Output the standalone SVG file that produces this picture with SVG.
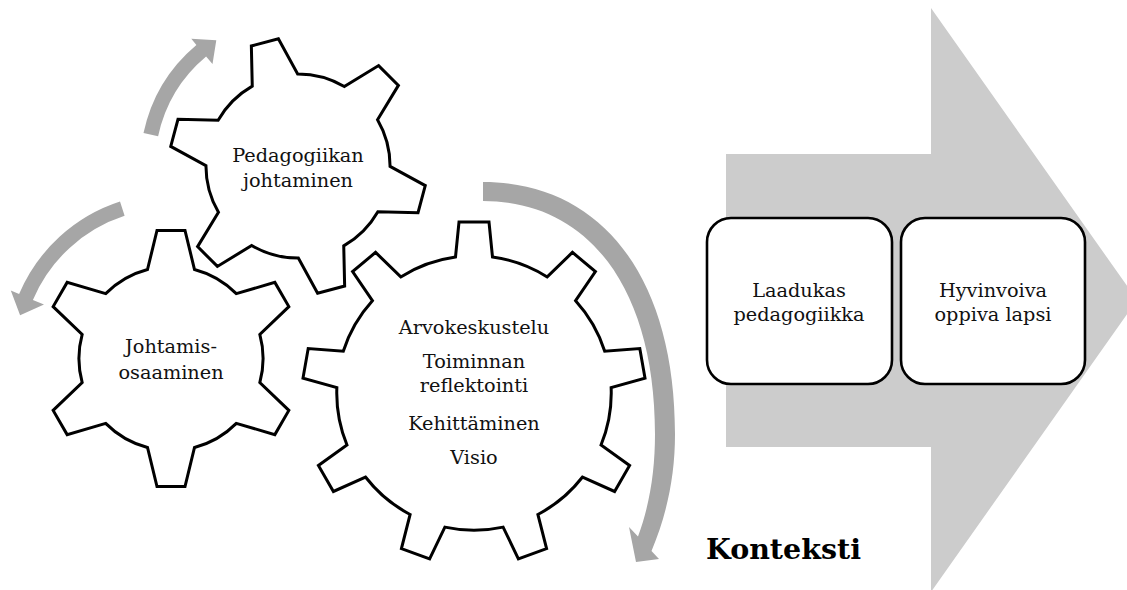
<svg xmlns="http://www.w3.org/2000/svg" xmlns:xlink="http://www.w3.org/1999/xlink" width="1127" height="590" viewBox="0 0 1127 590">
<style>
.gear{fill:#fff;stroke:#000;stroke-width:3;stroke-linejoin:miter}
.box{fill:#fff;stroke:#000;stroke-width:2.6}
.t{font-family:"DejaVu Serif","Liberation Serif",serif;font-size:19.3px;fill:#111;text-anchor:middle}
.rot{fill:#a6a6a6}
.big{fill:#cccccc}
.k{font-family:"DejaVu Serif","Liberation Serif",serif;font-size:28.5px;font-weight:bold;fill:#000}
</style>
<defs>
<path id="gearS" d="M89,-23.5 L128,-14 L128,14 L89,23.5 A92 92 0 0 1 64.85,65.32 L76.12,103.85 L51.88,117.85 L24.15,88.82 A92 92 0 0 1 -24.15,88.82 L-51.88,117.85 L-76.12,103.85 L-64.85,65.32 A92 92 0 0 1 -89,23.5 L-128,14 L-128,-14 L-89,-23.5 A92 92 0 0 1 -64.85,-65.32 L-76.12,-103.85 L-51.88,-117.85 L-24.15,-88.82 A92 92 0 0 1 24.15,-88.82 L51.88,-117.85 L76.12,-103.85 L64.85,-65.32 A92 92 0 0 1 89,-23.5 Z"/>
<path id="gearL" d="M136,-18.5 L171,-15 L171,15 L136,18.5 A137.25 137.25 0 0 1 116.07,73.25 L140.63,98.43 L121.35,121.41 L92.29,101.59 A137.25 137.25 0 0 1 41.83,130.72 L44.46,165.8 L14.92,171 L5.39,137.14 A137.25 137.25 0 0 1 -51.98,127.03 L-72.51,155.59 L-98.49,140.59 L-84.02,108.53 A137.25 137.25 0 0 1 -121.47,63.89 L-155.56,72.58 L-165.82,44.38 L-134.13,29.13 A137.25 137.25 0 0 1 -134.13,-29.13 L-165.82,-44.38 L-155.56,-72.58 L-121.47,-63.89 A137.25 137.25 0 0 1 -84.02,-108.53 L-98.49,-140.59 L-72.51,-155.59 L-51.98,-127.03 A137.25 137.25 0 0 1 5.39,-137.14 L14.92,-171 L44.46,-165.8 L41.83,-130.72 A137.25 137.25 0 0 1 92.29,-101.59 L121.35,-121.41 L140.63,-98.43 L116.07,-73.25 A137.25 137.25 0 0 1 136,-18.5 Z"/>
</defs>
<rect width="1127" height="590" fill="#fff"/>
<g id="big-arrow">
<path class="big" d="M726,154 L931,154 L931,8 L1137,300 L931,592 L931,447 L726,447 Z"/>
</g>
<g id="connectors">
<path class="rot" d="M143.5,133.1 A158 158 0 0 1 196.4,45.0 L191.3,38.8 L216.3,40.2 L212.5,64.1 L206.1,56.5 A143 143 0 0 0 158.1,136.3 Z"/>
<path class="rot" d="M120.0,201.6 A165 165 0 0 0 19.1,294.0 L10.8,290.5 L20.1,315.2 L44.0,304.6 L32.9,299.9 A150 150 0 0 1 124.6,215.8 Z"/>
<path class="rot" d="M483,182 C602,182 675,278 675,434 C675,476 667,514 651.5,551 L659,559 L636,562 L629,527 L638,536.6 C650,504 655,470 655,434 C655,290 590,201 483,201 Z"/>
</g>
<g id="gear-pedagogiikan">
<use xlink:href="#gearS" href="#gearS" class="gear" transform="translate(298,166) rotate(15)"/>
<text class="t" x="298" y="162">Pedagogiikan</text>
<text class="t" x="298" y="187">johtaminen</text>
</g>
<g id="gear-johtamis">
<use xlink:href="#gearS" href="#gearS" class="gear" transform="translate(171,358.5) rotate(-90)"/>
<text class="t" x="171" y="353">Johtamis-</text>
<text class="t" x="171" y="379">osaaminen</text>
</g>
<g id="gear-arvo">
<use xlink:href="#gearL" href="#gearL" class="gear" transform="translate(474,393) rotate(-90)"/>
<text class="t" x="474" y="334">Arvokeskustelu</text>
<text class="t" x="474" y="368">Toiminnan</text>
<text class="t" x="474" y="392">reflektointi</text>
<text class="t" x="474" y="430">Kehittäminen</text>
<text class="t" x="474" y="464">Visio</text>
</g>
<g id="box-laadukas">
<rect class="box" x="707" y="218" width="185" height="166" rx="24" ry="24"/>
<text class="t" x="799" y="297">Laadukas</text>
<text class="t" x="799" y="321">pedagogiikka</text>
</g>
<g id="box-hyvinvoiva">
<rect class="box" x="901" y="218" width="184" height="166" rx="24" ry="24"/>
<text class="t" x="993" y="297">Hyvinvoiva</text>
<text class="t" x="993" y="321">oppiva lapsi</text>
</g>
<g id="label-konteksti">
<text class="k" x="706" y="559">Konteksti</text>
</g>
</svg>
